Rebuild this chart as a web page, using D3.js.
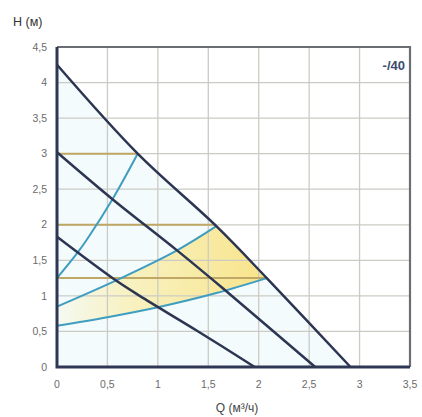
<!DOCTYPE html>
<html><head><meta charset="utf-8">
<script src="https://cdn.jsdelivr.net/npm/d3@7"></script>
<style>body{margin:0;background:#fff}svg{display:block}</style>
</head><body>
<svg id="c" width="422" height="417"></svg>
<script>
// Data
const xTicks = [0, 0.5, 1, 1.5, 2, 2.5, 3, 3.5];
const yTicks = [0, 0.5, 1, 1.5, 2, 2.5, 3, 3.5, 4, 4.5];
// pump curves [Q, H]
const pumpTop = [[0,4.25],[0.8,3.0],[1.58,1.98],[2.08,1.25],[2.91,0]];
const pumpMid = [[0,3.02],[0.55,2.36],[1.19,1.64],[1.65,1.1],[2.56,0]];
const pumpLow = [[0,1.83],[0.56,1.24],[0.82,1.0],[1.4,0.5],[1.96,0]];
// system curves
const sysA = [[0,1.25],[0.2,1.6],[0.3,1.8],[0.55,2.36],[0.8,3.0]];
const sysB = [[0,0.85],[0.62,1.24],[1.19,1.64],[1.58,1.98]];
const sysC = [[0,0.58],[0.5,0.7],[1.0,0.84],[1.58,1.04],[2.08,1.25]];
// horizontal levels [H, Qend]
const levels = [[3,0.8],[2,1.58],[1.25,2.08]];
const tag = "-/40";

const svg = d3.select("#c");
const x = d3.scaleLinear().domain([0,3.5]).range([57,410]);
const y = d3.scaleLinear().domain([0,4.5]).range([367,47]);
const fmt = d => String(d).replace(".", ",");
const line = d3.line().x(d=>x(d[0])).y(d=>y(d[1])).curve(d3.curveCatmullRom.alpha(0.5));

const defs = svg.append("defs");
const g1 = defs.append("linearGradient").attr("id","yg").attr("gradientUnits","userSpaceOnUse")
  .attr("x1",x(0)).attr("x2",x(2.08)).attr("y1",0).attr("y2",0);
g1.append("stop").attr("offset","0").attr("stop-color","#fbe98e").attr("stop-opacity",0.1);
g1.append("stop").attr("offset","0.35").attr("stop-color","#fbe98e").attr("stop-opacity",0.55);
g1.append("stop").attr("offset","1").attr("stop-color","#f9df74").attr("stop-opacity",0.85);

// very faint blue tint under top curve
svg.append("path")
  .attr("d", d3.area().x(d=>x(d[0])).y0(y(0)).y1(d=>y(d[1])).curve(d3.curveCatmullRom.alpha(0.5))(pumpTop))
  .attr("fill","#f4fbfd");

// yellow region between sysB and sysC up to top curve
const topSeg = pumpTop.filter(d=>d[0]>=1.58 && d[0]<=2.08);
const poly = sysB.concat(topSeg.slice(1)).concat(sysC.slice().reverse());
svg.append("path")
  .attr("d", d3.line().x(d=>x(d[0])).y(d=>y(d[1])).curve(d3.curveLinear)(poly) + "Z")
  .attr("fill","url(#yg)");

// grid
svg.append("g").selectAll("line").data(xTicks.slice(1,-1)).join("line")
  .attr("x1",d=>x(d)).attr("x2",d=>x(d)).attr("y1",y(4.5)).attr("y2",y(0))
  .attr("stroke","#cbcbc4").attr("stroke-width",1.3);
svg.append("g").selectAll("line").data(yTicks.slice(1,-1)).join("line")
  .attr("y1",d=>y(d)).attr("y2",d=>y(d)).attr("x1",x(0)).attr("x2",x(3.5))
  .attr("stroke","#cbcbc4").attr("stroke-width",1.3);

// border top/right
svg.append("path").attr("d",`M${x(0)},${y(4.5)}H${x(3.5)}V${y(0)}`)
  .attr("fill","none").attr("stroke","#6a6e74").attr("stroke-width",2.2);

// horizontal levels
svg.append("g").selectAll("line").data(levels).join("line")
  .attr("x1",x(0)).attr("x2",d=>x(d[1])).attr("y1",d=>y(d[0])).attr("y2",d=>y(d[0]))
  .attr("stroke","#bfa765").attr("stroke-width",2);

// system curves
[sysA, sysB, sysC].forEach(s => svg.append("path").attr("d", line(s))
  .attr("fill","none").attr("stroke","#3f9dbf").attr("stroke-width",2));

// pump curves
[pumpTop, pumpMid, pumpLow].forEach(s => svg.append("path").attr("d", line(s))
  .attr("fill","none").attr("stroke","#2c3652").attr("stroke-width",2.5));

// axes lines
svg.append("path").attr("d",`M${x(0)},${y(4.5)}V${y(0)}H${x(3.5)}`)
  .attr("fill","none").attr("stroke","#2e3854").attr("stroke-width",3);

// tick labels
const font = "'Liberation Sans', Arial, sans-serif";
svg.append("g").selectAll("text").data(yTicks).join("text")
  .attr("x",47).attr("y",d=>y(d)).attr("dy","0.35em").attr("text-anchor","end")
  .attr("font-family",font).attr("font-size",10.5).attr("fill","#6b6b6b").text(fmt);
svg.append("g").selectAll("text").data(xTicks).join("text")
  .attr("x",d=>x(d)).attr("y",384).attr("dy","0.35em").attr("text-anchor","middle")
  .attr("font-family",font).attr("font-size",10.5).attr("fill","#6b6b6b").text(fmt);

// titles
svg.append("text").attr("x",13).attr("y",26).attr("font-family",font).attr("font-size",12.5)
  .attr("fill","#333").text("H (м)");
svg.append("text").attr("x",237).attr("y",412).attr("text-anchor","middle").attr("font-family",font)
  .attr("font-size",12).attr("fill","#444").text("Q (м³/ч)");
svg.append("text").attr("x",405).attr("y",70).attr("text-anchor","end").attr("font-family",font)
  .attr("font-size",13).attr("font-weight","bold").attr("fill","#3b4c6e").text(tag);
</script>
</body></html>
